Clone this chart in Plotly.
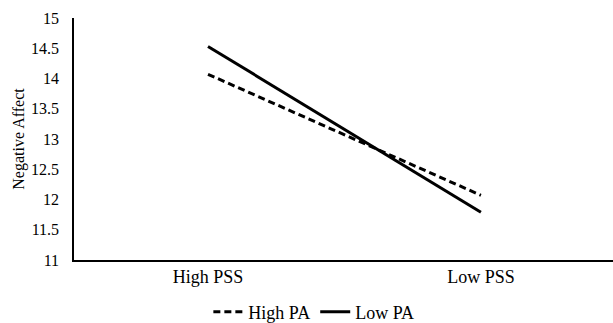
import plotly.graph_objects as go

categories = ["High PSS", "Low PSS"]
high_pa = [14.07, 12.07]
low_pa = [14.53, 11.79]
series_names = ["High PA", "Low PA"]
y_ticks = [11, 11.5, 12, 12.5, 13, 13.5, 14, 14.5, 15]
y_tick_labels = ["11", "11.5", "12", "12.5", "13", "13.5", "14", "14.5", "15"]

font = "Liberation Serif, Times New Roman, serif"

fig = go.Figure()
fig.add_trace(go.Scatter(x=categories, y=high_pa, mode="lines", name=series_names[0],
                         line=dict(color="black", width=3, dash="7px,4px")))
fig.add_trace(go.Scatter(x=categories, y=low_pa, mode="lines", name=series_names[1],
                         line=dict(color="black", width=3)))

fig.update_layout(
    width=613, height=323,
    margin=dict(l=74, r=0, t=18, b=63, autoexpand=False),
    paper_bgcolor="white", plot_bgcolor="white",
    font=dict(family=font, size=16, color="black"),
    showlegend=True,
    legend=dict(orientation="h", xref="container", yref="container",
                x=0.512, xanchor="center", y=0.034, yanchor="middle",
                font=dict(family=font, size=18), itemwidth=30),
    xaxis=dict(type="category", range=[-0.491, 1.484], showgrid=False, zeroline=False,
               showline=True, linecolor="black", linewidth=1.5, ticks="",
               tickfont=dict(family=font, size=18)),
    yaxis=dict(range=[11, 15], tickvals=y_ticks, ticktext=y_tick_labels,
               showgrid=False, zeroline=False, showline=True, linecolor="black",
               linewidth=1.5, ticks="", ticklabelstandoff=10,
               title=dict(text="Negative Affect", font=dict(family=font, size=16), standoff=2),
               tickfont=dict(family=font, size=16)),
)

fig.write_html("out.html", config={"displayModeBar": False},
               post_script="document.body.style.margin='0';document.body.style.overflow='hidden';")
